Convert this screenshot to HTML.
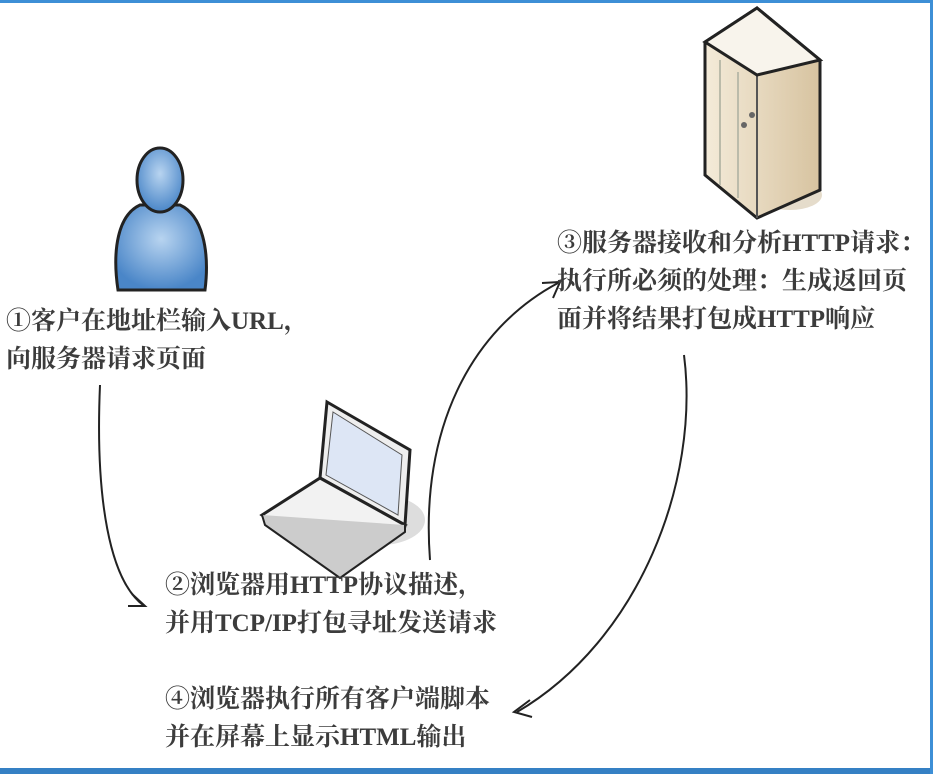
<!DOCTYPE html>
<html><head><meta charset="utf-8"><style>
html,body{margin:0;padding:0;background:#fff}
#c{position:relative;width:933px;height:774px;overflow:hidden;background:#fff}
.t{position:absolute;font-family:"Liberation Serif","Noto Serif CJK SC",serif;font-size:25px;line-height:38px;color:#3c3c3c;font-weight:bold;white-space:nowrap}
</style></head><body><div id="c">
<div style="position:absolute;left:0;top:0;width:933px;height:3px;background:#3d8fd6"></div>
<div style="position:absolute;left:0;top:768px;width:933px;height:6px;background:#3580c4"></div>
<div style="position:absolute;left:930px;top:0;width:3px;height:774px;background:#3d8fd6"></div>
<svg width="933" height="774" style="position:absolute;left:0;top:0">
<defs>
<radialGradient id="bl" cx="50%" cy="40%" r="60%"><stop offset="0" stop-color="#b8d4f0"/><stop offset="1" stop-color="#4a86c8"/></radialGradient>
<linearGradient id="sv" x1="0" x2="1"><stop offset="0" stop-color="#f4ebd9"/><stop offset="1" stop-color="#d7c3a0"/></linearGradient>
</defs>
<!-- person -->
<path d="M118,290 C112,250 118,215 140,205 L180,205 C202,215 210,250 205,290 Z" fill="url(#bl)" stroke="#222" stroke-width="3"/>
<ellipse cx="160" cy="180" rx="23" ry="32" fill="url(#bl)" stroke="#222" stroke-width="3"/>
<!-- server -->
<ellipse cx="790" cy="195" rx="32" ry="15" fill="#e5dccb"/>
<path d="M757,8 L820,60 L820,190 L757,218 L705,175 L705,42 Z" fill="url(#sv)" stroke="#222" stroke-width="3"/>
<path d="M705,42 L757,75 L820,60 M757,75 L757,218" fill="none" stroke="#555" stroke-width="2"/>
<path d="M757,8 L705,42 L757,75 L820,60 Z" fill="#f8f4ec" stroke="#222" stroke-width="3"/>
<path d="M720,60 L720,185 M738,72 L738,198" stroke="#bba" stroke-width="2"/>
<circle cx="752" cy="115" r="3" fill="#666"/><circle cx="744" cy="125" r="3" fill="#666"/>
<!-- laptop -->
<ellipse cx="380" cy="520" rx="45" ry="25" fill="#ddd"/>
<path d="M327,402 L410,450 L405,525 L320,478 Z" fill="#eee" stroke="#222" stroke-width="3"/>
<path d="M333,412 L402,455 L398,515 L326,475 Z" fill="#dde6f5" stroke="#555"/>
<path d="M320,478 L405,525 L340,570 L262,515 Z" fill="#f2f2f2" stroke="#222" stroke-width="3"/>
<path d="M262,515 L265,525 L340,578 L405,532 L405,525" fill="#ccc" stroke="#222" stroke-width="2"/>
<!-- arrows -->
<g fill="none" stroke="#222" stroke-width="2">
<path d="M100,385 C95,500 110,580 143,605"/>
<path d="M132,594 L145,606 L128,606"/>
<path d="M430,560 C420,430 470,330 558,283"/>
<path d="M542,283 L560,282 L553,298"/>
<path d="M684,355 C700,480 640,640 517,712"/>
<path d="M530,700 L514,712 L532,717"/>
</g>
</svg>
<div class="t" style="left:6px;top:303px">①客户在地址栏输入URL，<br>向服务器请求页面</div>
<div class="t" style="left:557px;top:225px">③服务器接收和分析HTTP请求：<br>执行所必须的处理：生成返回页<br>面并将结果打包成HTTP响应</div>
<div class="t" style="left:165px;top:567px">②浏览器用HTTP协议描述，<br>并用TCP/IP打包寻址发送请求</div>
<div class="t" style="left:165px;top:681px">④浏览器执行所有客户端脚本<br>并在屏幕上显示HTML输出</div>
</div></body></html>
